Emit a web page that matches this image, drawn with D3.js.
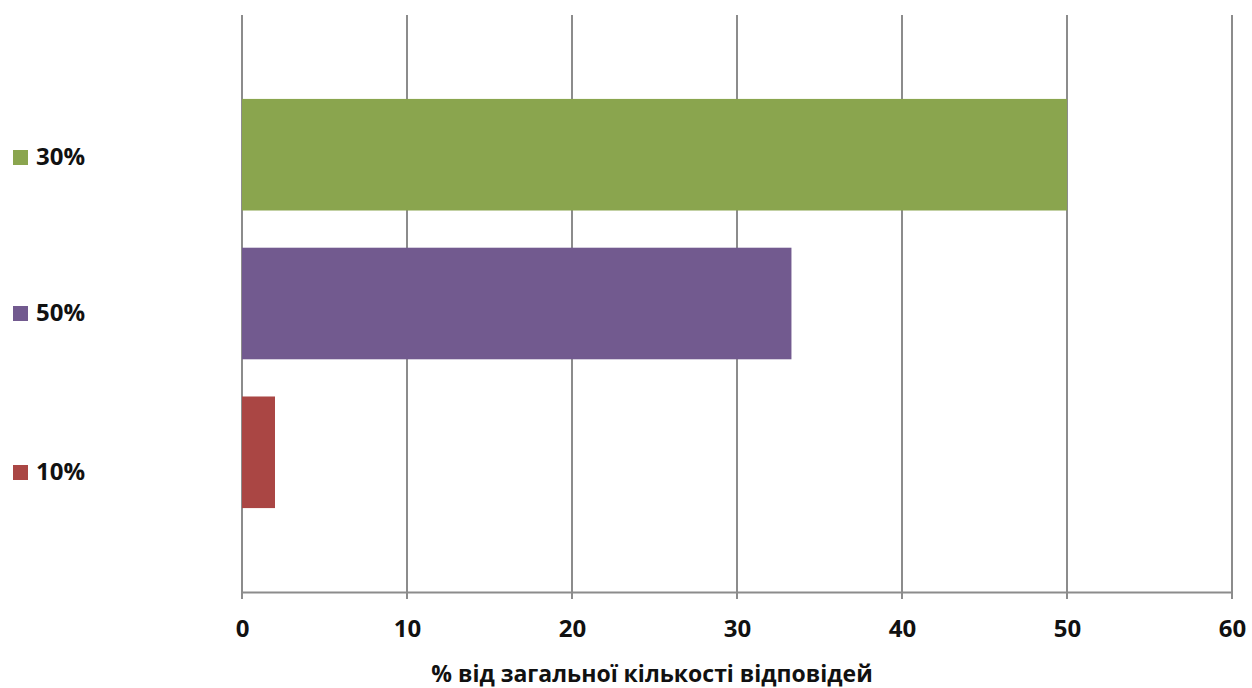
<!DOCTYPE html>
<html>
<head>
<meta charset="utf-8">
<script src="https://cdn.jsdelivr.net/npm/d3@7"></script>
<style>
  html, body { margin: 0; padding: 0; background: #fff; }
  svg { display: block; font-family: "Open Sans", "Liberation Sans", sans-serif; }
</style>
</head>
<body>
<svg id="chart" width="1252" height="688"></svg>
<script>
// Data
const categories = ["30%", "50%", "10%"];
const values = [50, 33.3, 2];
const colors = ["#8aa54e", "#725a8f", "#aa4644"];
const xTicks = [0, 10, 20, 30, 40, 50, 60];
const xTitle = "% від загальної кількості відповідей";

const svg = d3.select("#chart");
const plot = { left: 242, right: 1232, top: 15, bottom: 592 };

const x = d3.scaleLinear().domain([0, 60]).range([plot.left, plot.right]);
const y = d3.scaleBand().domain(categories).range([plot.top, plot.bottom])
  .paddingInner(0.25).paddingOuter(0.564);

// Gridlines
svg.append("g")
  .selectAll("line")
  .data(xTicks)
  .join("line")
  .attr("x1", d => x(d)).attr("x2", d => x(d))
  .attr("y1", plot.top).attr("y2", plot.bottom + 7)
  .attr("stroke", "#8c8c8c").attr("stroke-width", 2);

// Baseline axis
const axis = svg.append("g")
  .attr("transform", `translate(0,${plot.bottom})`)
  .call(d3.axisBottom(x).tickValues(xTicks).tickSize(0).tickPadding(28));
axis.select(".domain").attr("stroke", "#8c8c8c").attr("stroke-width", 2);
axis.selectAll("text")
  .attr("font-size", 24).attr("font-weight", "bold").attr("fill", "#111")
  .attr("font-family", "'Open Sans', sans-serif");

// Bars
svg.append("g")
  .selectAll("rect")
  .data(categories)
  .join("rect")
  .attr("x", x(0))
  .attr("y", d => y(d))
  .attr("width", (d, i) => x(values[i]) - x(0))
  .attr("height", y.bandwidth())
  .attr("fill", (d, i) => colors[i]);

// Legend
const legendY = [157, 313, 472];
const lg = svg.append("g").selectAll("g")
  .data(categories)
  .join("g")
  .attr("transform", (d, i) => `translate(13,${legendY[i]})`);
lg.append("rect")
  .attr("x", 0).attr("y", -7).attr("width", 15).attr("height", 15)
  .attr("fill", (d, i) => colors[i]);
lg.append("text")
  .attr("x", 23).attr("y", 0).attr("dy", "0.35em")
  .attr("font-size", 24).attr("font-weight", "bold").attr("fill", "#111")
  .text(d => d);

// Axis title
svg.append("text")
  .attr("x", 652).attr("y", 682)
  .attr("text-anchor", "middle")
  .attr("font-size", 23).attr("font-weight", "bold").attr("fill", "#111")
  .text(xTitle);
</script>
</body>
</html>
